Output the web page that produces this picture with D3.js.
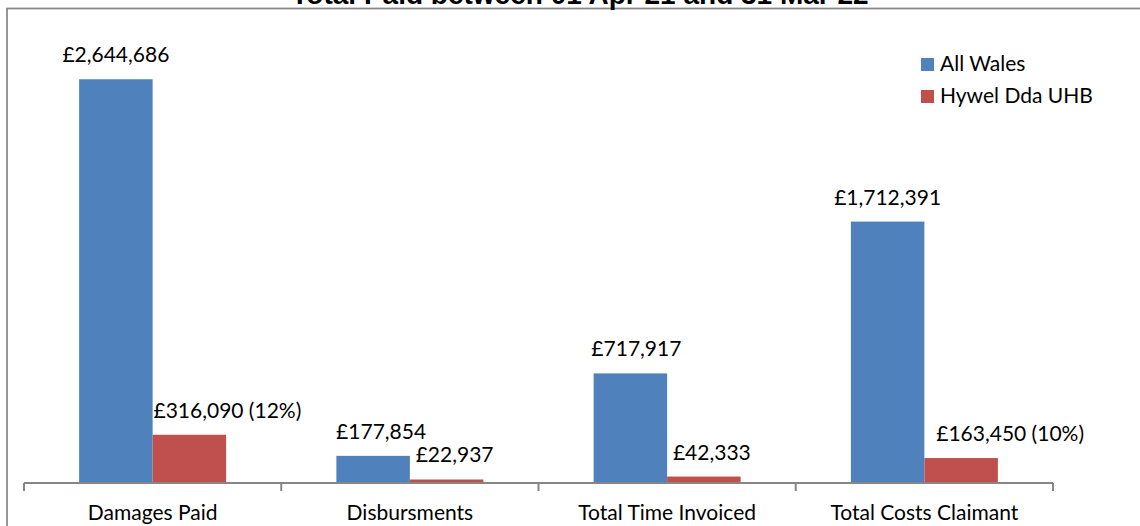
<!DOCTYPE html>
<html><head><meta charset="utf-8">
<script src="https://cdn.jsdelivr.net/npm/d3@7"></script>
<style>body{margin:0;background:#fff}svg{display:block}</style>
</head><body>
<svg id="c" width="1140" height="526"></svg>
<script>
const title = "Total Paid between 01 Apr 21 and 31 Mar 22";
const categories = ["Damages Paid", "Disbursments", "Total Time Invoiced", "Total Costs Claimant"];
const seriesNames = ["All Wales", "Hywel Dda UHB"];
const allWales = [2644686, 177854, 717917, 1712391];
const hywelDda = [316090, 22937, 42333, 163450];
const hywelPct = ["12%", null, null, "10%"];
const colors = ["#4F81BD", "#C0504D"];

const svg = d3.select("#c");
const font = "Lato, 'Open Sans', sans-serif";
const fs = 21;

// frame
svg.append("rect").attr("x", 7).attr("y", 8.5).attr("width", 1200).attr("height", 600)
  .attr("fill", "none").attr("stroke", "#8a8a8a").attr("stroke-width", 1.8);

// title (cut off at the top)
svg.append("text").attr("x", 580).attr("y", 3.5).attr("text-anchor", "middle")
  .attr("font-family", "'Liberation Sans', Arial, sans-serif").attr("font-weight", "bold")
  .attr("font-size", 28).attr("fill", "#000").text(title);

const y = d3.scaleLinear().domain([0, 3000000]).range([483, 25]);
const x0 = d3.scaleBand().domain(categories).range([24, 1053]).padding(0);
const x1 = d3.scaleBand().domain(seriesNames).range([0, x0.bandwidth()]).paddingInner(0).paddingOuter(0.75);

const data = categories.map((c, i) => ({c, vals: [allWales[i], hywelDda[i]], pct: hywelPct[i]}));

const g = svg.append("g");
const labelNudge = [[0, 38], [8, 8], [6, 8], [0, 49]];

data.forEach((d, i) => {
  d.vals.forEach((v, s) => {
    const bx = x0(d.c) + x1(seriesNames[s]);
    g.append("rect").attr("x", bx).attr("y", y(v)).attr("width", x1.bandwidth())
      .attr("height", y(0) - y(v)).attr("fill", colors[s]);
    let txt = "£" + d3.format(",")(v);
    if (s === 1 && d.pct) txt += " (" + d.pct + ")";
    g.append("text").attr("x", bx + x1.bandwidth() / 2 + labelNudge[i][s]).attr("y", y(v) - 17)
      .attr("text-anchor", "middle").attr("font-family", font).attr("font-size", fs)
      .attr("fill", "#000").text(txt);
  });
});

// axis
const axis = d3.axisBottom(x0).tickSize(0).tickPadding(0);
const ax = svg.append("g").attr("transform", "translate(0,483)");
ax.append("line").attr("x1", 24).attr("x2", 1053).attr("y1", 0).attr("y2", 0)
  .attr("stroke", "#868686").attr("stroke-width", 2);
const bounds = categories.map(c => x0(c)).concat([x0.range()[1]]);
bounds.forEach(b => {
  ax.append("line").attr("x1", b).attr("x2", b).attr("y1", 0).attr("y2", 8)
    .attr("stroke", "#868686").attr("stroke-width", 2);
});
categories.forEach(c => {
  ax.append("text").attr("x", x0(c) + x0.bandwidth() / 2).attr("y", 37)
    .attr("text-anchor", "middle").attr("font-family", font).attr("font-size", fs)
    .attr("fill", "#000").text(c);
});

// legend
const lg = svg.append("g");
seriesNames.forEach((n, i) => {
  lg.append("rect").attr("x", 921).attr("y", 58 + i * 32).attr("width", 13).attr("height", 13).attr("fill", colors[i]);
  lg.append("text").attr("x", 940).attr("y", 71 + i * 32).attr("font-family", font).attr("font-size", fs)
    .attr("fill", "#000").text(n);
});
</script>
</body></html>
